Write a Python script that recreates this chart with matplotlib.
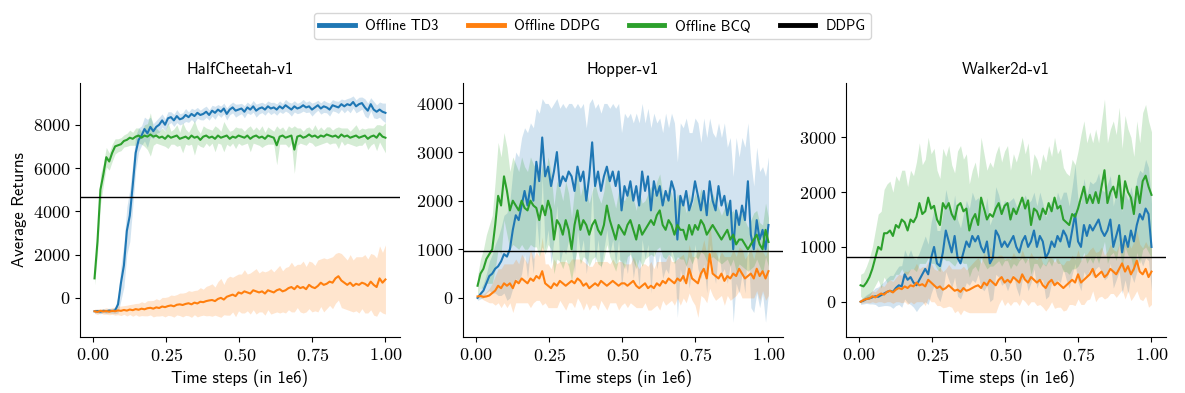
import numpy as np
import matplotlib
matplotlib.use("Agg")
import matplotlib.pyplot as plt
from matplotlib.ticker import FuncFormatter

plt.rcParams["mathtext.fontset"] = "cm"
plt.rcParams["font.family"] = ["cmss10", "DejaVu Sans"]
plt.rcParams["axes.unicode_minus"] = False

# evaluation every ~10k steps (in 1e6)
steps = np.linspace(0.005, 1.0, 100)

envs = ["HalfCheetah-v1", "Hopper-v1", "Walker2d-v1"]
ddpg_ref = [4680, 960, 820]

# ---- HalfCheetah ----
hc_td3 = [-620, -610, -640, -600, -620, -590, -610, -580, -300, 700,
          1500, 3100, 3800, 5200, 6700, 7300, 7500, 7800, 7600, 7900,
          7700, 7900, 8000, 8200, 8000, 8300, 8350, 8200, 8400, 8250,
          8300, 8450, 8350, 8500, 8400, 8550, 8450, 8500, 8600, 8450,
          8650, 8550, 8700, 8600, 8750, 8500, 8700, 8800, 8650, 8700,
          8750, 8600, 8800, 8700, 8850, 8650, 8750, 8800, 8700, 8850,
          8750, 8800, 8700, 8850, 8750, 8900, 8800, 8700, 8850, 8750,
          8800, 8900, 8800, 8850, 8700, 8800, 8900, 8750, 8850, 8800,
          8700, 8900, 8850, 8800, 8950, 8850, 8950, 8900, 9050, 8850,
          8950, 9000, 8800, 8650, 8950, 8700, 8600, 8700, 8600, 8550]
hc_td3_sd = [80, 90, 100, 90, 100, 110, 100, 150, 400, 800,
             1000, 1100, 1200, 1000, 800, 550, 450, 550, 650, 450,
             350, 300, 350, 300, 280, 300, 250, 280, 300, 260,
             250, 300, 240, 260, 300, 250, 220, 280, 260, 240,
             250, 300, 230, 260, 250, 280, 240, 250, 300, 260,
             240, 280, 250, 230, 270, 300, 250, 240, 260, 250,
             280, 240, 260, 250, 230, 270, 250, 300, 260, 240,
             250, 270, 240, 260, 300, 250, 230, 260, 280, 250,
             300, 260, 250, 280, 240, 300, 260, 350, 280, 300,
             320, 280, 400, 350, 300, 380, 320, 350, 400, 450]
hc_ddpg = [-620, -650, -600, -630, -610, -640, -600, -620, -580, -600,
           -560, -590, -540, -570, -520, -550, -500, -530, -480, -460,
           -500, -440, -470, -400, -430, -380, -350, -390, -320, -300,
           -330, -280, -250, -300, -220, -260, -180, -200, -150, -120,
           -100, -150, -50, 0, -80, 50, 100, 150, 80, 250,
           200, 300, 250, 200, 350, 300, 250, 300, 200, 350,
           300, 250, 350, 400, 300, 350, 450, 500, 400, 550,
           450, 500, 400, 600, 500, 450, 550, 700, 600, 650,
           750, 700, 900, 1000, 800, 700, 600, 700, 550, 650,
           600, 700, 650, 550, 750, 600, 500, 900, 700, 850]
hc_ddpg_sd = [100, 120, 100, 130, 150, 140, 160, 180, 200, 220,
              200, 250, 230, 280, 260, 300, 320, 300, 350, 330,
              380, 400, 370, 420, 450, 430, 480, 500, 470, 520,
              550, 530, 580, 600, 560, 620, 650, 600, 680, 700,
              750, 650, 800, 900, 700, 850, 900, 800, 950, 850,
              900, 1000, 850, 950, 900, 1050, 900, 950, 1000, 900,
              1050, 950, 1000, 1100, 950, 1050, 1000, 1150, 1050, 1000,
              1100, 1200, 1050, 1100, 1150, 1050, 1200, 1100, 1250, 1150,
              1100, 1200, 1150, 1100, 1250, 1200, 1150, 1300, 1200, 1250,
              1300, 1200, 1350, 1250, 1300, 1400, 1350, 1500, 1400, 1600]
hc_bcq = [900, 2600, 5000, 5700, 6500, 6300, 6700, 7000, 7050, 7100,
          7250, 7300, 7400, 7350, 7450, 7500, 7400, 7500, 7450, 7550,
          7450, 7500, 7400, 7450, 7350, 7500, 7400, 7450, 7500, 7350,
          7400, 7450, 7350, 7500, 7400, 7450, 7300, 7450, 7500, 7400,
          7450, 7350, 7500, 7400, 7450, 7500, 7350, 7450, 7400, 7500,
          7450, 7400, 7500, 7350, 7450, 7500, 7400, 7450, 7350, 7500,
          7450, 7400, 7050, 7450, 7500, 7400, 7450, 7500, 6850, 7450,
          7500, 7400, 7450, 7550, 7450, 7500, 7400, 7500, 7450, 7550,
          7500, 7450, 7500, 7400, 7550, 7450, 7500, 7400, 7450, 7500,
          7400, 7450, 7500, 7350, 7450, 7500, 7400, 7600, 7450, 7400]
hc_bcq_sd = [300, 600, 700, 500, 450, 400, 400, 350, 300, 300,
             280, 300, 350, 300, 400, 350, 300, 500, 600, 1000,
             400, 350, 300, 400, 350, 600, 300, 350, 500, 300,
             700, 350, 300, 400, 800, 350, 300, 500, 350, 400,
             300, 600, 350, 300, 700, 400, 350, 300, 500, 350,
             400, 300, 350, 600, 300, 400, 350, 500, 300, 400,
             350, 300, 900, 350, 400, 300, 500, 350, 1100, 400,
             350, 300, 400, 350, 300, 500, 350, 400, 300, 350,
             400, 300, 350, 500, 300, 400, 350, 300, 400, 500,
             350, 400, 300, 500, 400, 350, 600, 400, 500, 700]

# ---- Hopper ----
hop_td3 = [0, 80, 150, 300, 450, 500, 600, 650, 750, 900,
           850, 1000, 1400, 1700, 1600, 1900, 2200, 1900, 2300, 2000,
           2800, 2400, 3300, 2500, 2700, 2300, 2600, 3000, 2300, 2500,
           2400, 2600, 2500, 2200, 2700, 2400, 2600, 2000, 2500, 3200,
           2300, 2600, 2200, 2500, 2700, 2400, 2600, 2300, 2600, 1800,
           2300, 2100, 2400, 2000, 2300, 1900, 2600, 2200, 2500, 1800,
           2400, 2100, 2300, 1900, 2200, 2000, 2400, 2200, 1200, 2100,
           1900, 2200, 1800, 2000, 2400, 2100, 1800, 2200, 1700, 2400,
           2000, 1800, 2300, 1900, 2100, 1700, 2000, 1000, 1800, 1500,
           1900, 1600, 2400, 1300, 1000, 1600, 1200, 1400, 1000, 1500]
hop_td3_sd = [50, 100, 150, 200, 300, 400, 500, 600, 700, 800,
              900, 1000, 1200, 1300, 1300, 1400, 1300, 1500, 1300, 1500,
              1100, 1400, 800, 1500, 1300, 1600, 1400, 1100, 1600, 1500,
              1500, 1400, 1500, 1700, 1300, 1500, 1400, 1500, 1500, 900,
              1600, 1400, 1600, 1500, 1300, 1500, 1400, 1600, 1400, 1600,
              1500, 1600, 1400, 1600, 1500, 1700, 1400, 1400, 1400, 1700,
              1400, 1500, 1400, 1500, 1600, 1500, 1400, 1400, 1600, 1500,
              1600, 1500, 1600, 1400, 1300, 1500, 1400, 1500, 1600, 1300,
              1400, 1500, 1300, 1400, 1500, 1400, 1300, 1500, 1500, 1400,
              1400, 1500, 1200, 1500, 1300, 1500, 1400, 1300, 1500, 1400]
hop_ddpg = [30, 40, 20, 30, 50, 100, 150, 250, 200, 300,
            250, 300, 200, 350, 300, 400, 350, 300, 400, 350,
            450, 400, 550, 300, 250, 200, 300, 250, 350, 300,
            250, 300, 350, 300, 400, 350, 250, 300, 200, 250,
            300, 250, 350, 300, 250, 300, 350, 300, 250, 300,
            300, 250, 300, 350, 250, 200, 250, 300, 200, 250,
            200, 300, 250, 350, 300, 400, 350, 300, 400, 350,
            450, 300, 600, 400, 350, 300, 500, 600, 400, 900,
            500, 450, 400, 500, 350, 450, 400, 500, 450, 600,
            500, 400, 450, 500, 400, 600, 450, 550, 400, 550]
hop_ddpg_sd = [20, 40, 60, 100, 150, 200, 300, 350, 400, 400,
               450, 400, 500, 450, 400, 500, 450, 400, 600, 450,
               500, 450, 700, 400, 450, 400, 500, 450, 400, 450,
               500, 400, 450, 500, 400, 450, 500, 400, 450, 400,
               450, 500, 400, 450, 500, 400, 450, 400, 500, 450,
               400, 450, 400, 500, 450, 400, 450, 400, 450, 500,
               400, 450, 500, 400, 450, 500, 400, 450, 400, 500,
               450, 400, 500, 450, 500, 700, 450, 600, 500, 700,
               450, 500, 400, 450, 500, 400, 450, 500, 400, 450,
               500, 400, 450, 500, 400, 450, 500, 400, 450, 500]
hop_bcq = [250, 500, 600, 800, 900, 1000, 1500, 2100, 1900, 2500,
           2200, 1800, 2000, 1900, 1800, 2000, 1850, 1800, 2000, 1900,
           1850, 1600, 1900, 1700, 2000, 1800, 1200, 1600, 1500, 1300,
           1600, 1400, 1000, 1500, 1800, 1400, 1600, 1500, 1300, 1500,
           1600, 1400, 1300, 1500, 1900, 1600, 1400, 1200, 1500, 1400,
           1300, 1500, 1600, 1400, 1200, 1500, 1300, 1400, 1500, 1600,
           1500, 1700, 1800, 1500, 1400, 1600, 1500, 1300, 1500, 1400,
           1400, 1200, 1500, 1300, 1500, 1400, 1600, 1500, 1300, 1400,
           1500, 1400, 1300, 1200, 1300, 1400, 1200, 1300, 1100, 1200,
           1200, 1100, 1000, 1100, 1200, 1300, 1100, 1000, 1400, 1150]
hop_bcq_sd = [200, 300, 400, 500, 600, 700, 900, 1100, 1000, 900,
              900, 800, 900, 850, 800, 900, 850, 800, 900, 850,
              800, 750, 850, 800, 900, 800, 700, 800, 750, 700,
              800, 750, 650, 750, 800, 700, 750, 700, 650, 700,
              750, 700, 650, 700, 800, 750, 700, 650, 700, 650,
              700, 650, 700, 650, 600, 700, 650, 600, 650, 700,
              650, 700, 750, 650, 600, 700, 650, 600, 650, 600,
              600, 550, 650, 600, 650, 600, 650, 600, 550, 600,
              650, 600, 550, 500, 550, 600, 550, 500, 550, 500,
              550, 500, 450, 500, 550, 500, 450, 500, 550, 500]

# ---- Walker2d ----
w_td3 = [0, 20, 50, 60, 80, 100, 90, 120, 150, 180,
         200, 180, 250, 300, 280, 500, 400, 450, 350, 300,
         400, 500, 600, 500, 800, 1000, 700, 650, 900, 1300,
         1100, 900, 1200, 800, 700, 900, 1100, 1000, 1200, 1100,
         1200, 1000, 900, 1100, 700, 800, 1300, 1200, 1000, 1100,
         1000, 1100, 1200, 1000, 900, 1100, 1200, 1000, 1100, 1300,
         1000, 1200, 1100, 800, 900, 1100, 1000, 1200, 1100, 1300,
         1200, 1000, 1300, 1600, 1100, 1000, 1400, 1200, 1400, 1300,
         1400, 1500, 1300, 1200, 1300, 1500, 1000, 1200, 1400, 900,
         1200, 1000, 1300, 1100, 1400, 1600, 1500, 1700, 1600, 1000]
w_td3_sd = [50, 60, 80, 100, 120, 150, 180, 200, 220, 250,
            280, 300, 320, 350, 380, 450, 420, 500, 450, 480,
            500, 550, 600, 550, 650, 700, 600, 650, 700, 750,
            700, 650, 750, 700, 650, 700, 750, 700, 800, 750,
            700, 750, 700, 800, 700, 750, 800, 750, 700, 750,
            800, 750, 700, 750, 800, 700, 750, 800, 750, 700,
            750, 800, 700, 750, 800, 750, 700, 800, 750, 700,
            800, 750, 800, 900, 750, 800, 850, 750, 800, 850,
            800, 850, 750, 800, 850, 800, 750, 800, 850, 750,
            800, 850, 800, 750, 850, 800, 850, 900, 850, 800]
w_ddpg = [0, 30, 50, 60, 100, 80, 120, 150, 130, 180,
          200, 170, 220, 250, 230, 280, 250, 300, 280, 350,
          300, 320, 280, 400, 350, 300, 250, 280, 220, 250,
          300, 250, 200, 220, 180, 250, 200, 220, 250, 280,
          300, 250, 350, 300, 400, 350, 300, 400, 450, 350,
          400, 350, 450, 400, 350, 500, 400, 350, 450, 400,
          350, 400, 300, 250, 350, 400, 300, 350, 300, 250,
          300, 350, 400, 350, 500, 350, 400, 450, 500, 600,
          450, 500, 550, 450, 500, 600, 550, 500, 600, 700,
          550, 650, 500, 600, 750, 550, 500, 600, 450, 550]
w_ddpg_sd = [30, 50, 60, 80, 100, 100, 120, 150, 150, 180,
             200, 200, 220, 250, 250, 280, 300, 300, 320, 350,
             300, 320, 350, 330, 350, 300, 320, 350, 330, 350,
             380, 350, 400, 380, 420, 400, 380, 420, 450, 480,
             500, 450, 550, 500, 600, 550, 500, 450, 400, 420,
             400, 420, 450, 400, 420, 450, 400, 420, 450, 400,
             420, 450, 400, 420, 450, 400, 420, 450, 400, 420,
             450, 400, 450, 420, 450, 400, 450, 420, 450, 400,
             450, 420, 450, 400, 420, 450, 400, 420, 450, 480,
             500, 450, 480, 500, 550, 500, 480, 500, 550, 600]
w_bcq = [300, 280, 350, 450, 600, 800, 1000, 950, 1250, 1250,
         1300, 1200, 1400, 1350, 1500, 1450, 1300, 1500, 1450, 1550,
         1800, 1600, 1650, 1900, 1700, 1750, 1500, 1400, 1800, 1700,
         1800, 1600, 1500, 1750, 1800, 1650, 1700, 1300, 1500, 1600,
         1400, 1900, 1700, 1500, 1600, 1550, 1700, 1800, 1600, 1750,
         1800, 1500, 1700, 1600, 1750, 1900, 1700, 1850, 1400, 1700,
         1650, 1500, 1700, 1600, 1800, 1650, 1900, 1700, 1750, 1500,
         1450, 1400, 1600, 1550, 1700, 1900, 2100, 1800, 1950, 1800,
         2000, 1800, 2100, 2400, 1800, 2000, 2100, 1900, 2300, 1700,
         2200, 2000, 1900, 1600, 2100, 1800, 2200, 2300, 2100, 1950]
w_bcq_sd = [200, 250, 300, 350, 400, 500, 600, 700, 800, 900,
            900, 800, 900, 850, 900, 950, 800, 900, 850, 1000,
            1100, 900, 950, 1100, 1000, 1050, 900, 850, 1000, 950,
            1050, 900, 850, 1000, 1050, 950, 1000, 850, 900, 950,
            850, 1100, 1000, 900, 950, 900, 1000, 1050, 950, 1000,
            1050, 900, 1000, 950, 1000, 1100, 1000, 1050, 900, 1000,
            950, 900, 1000, 950, 1050, 1000, 1100, 1000, 1050, 950,
            900, 900, 1000, 950, 1050, 1150, 1200, 1100, 1150, 1100,
            1150, 1100, 1200, 1300, 1100, 1150, 1200, 1150, 1250, 1100,
            1200, 1150, 1100, 1050, 1200, 1100, 1250, 1300, 1200, 1150]

td3_runs = [(hc_td3, hc_td3_sd), (hop_td3, hop_td3_sd), (w_td3, w_td3_sd)]
ddpg_runs = [(hc_ddpg, hc_ddpg_sd), (hop_ddpg, hop_ddpg_sd), (w_ddpg, w_ddpg_sd)]
bcq_runs = [(hc_bcq, hc_bcq_sd), (hop_bcq, hop_bcq_sd), (w_bcq, w_bcq_sd)]

ylims = [(-1800, 9950), (-800, 4430), (-640, 4000)]
yticks = [[0, 2000, 4000, 6000, 8000], [0, 1000, 2000, 3000, 4000], [0, 1000, 2000, 3000]]
colors = {"Offline TD3": "#1f77b4", "Offline DDPG": "#ff7f0e", "Offline BCQ": "#2ca02c"}

fig, axes = plt.subplots(1, 3, figsize=(11.85, 3.93), dpi=100)
fig.subplots_adjust(left=0.0675, right=0.984, bottom=0.143, top=0.79, wspace=0.197)

for k, ax in enumerate(axes):
    for name, runs in [("Offline TD3", td3_runs), ("Offline DDPG", ddpg_runs), ("Offline BCQ", bcq_runs)]:
        mean = np.array(runs[k][0], dtype=float)
        sd = np.array(runs[k][1], dtype=float)
        ax.fill_between(steps, mean - sd, mean + sd, color=colors[name], alpha=0.2, lw=0)
        ax.plot(steps, mean, color=colors[name], lw=1.5, label=name)
    ax.axhline(ddpg_ref[k], color="black", lw=1, label="DDPG")
    ax.set_title(envs[k], fontsize=12)
    ax.set_xlabel("Time steps (in 1e6)", fontsize=12)
    ax.set_ylim(*ylims[k])
    ax.set_yticks(yticks[k])
    ax.set_xticks([0, 0.25, 0.5, 0.75, 1.0])
    ax.xaxis.set_major_formatter(FuncFormatter(lambda v, p: "$%.2f$" % v))
    ax.yaxis.set_major_formatter(FuncFormatter(lambda v, p: "$%d$" % v))
    ax.tick_params(labelsize=13)
    ax.spines["top"].set_visible(False)
    ax.spines["right"].set_visible(False)

axes[0].set_ylabel("Average Returns", fontsize=12)

handles, labels = axes[0].get_legend_handles_labels()
leg = fig.legend(handles, labels, loc="upper center", bbox_to_anchor=(0.5, 0.985), ncol=4,
                 fontsize=10.5, columnspacing=2.0, handlelength=2.45, handletextpad=0.7)
for line in leg.get_lines():
    line.set_linewidth(3.5)

fig.savefig("out.png", dpi=100)
